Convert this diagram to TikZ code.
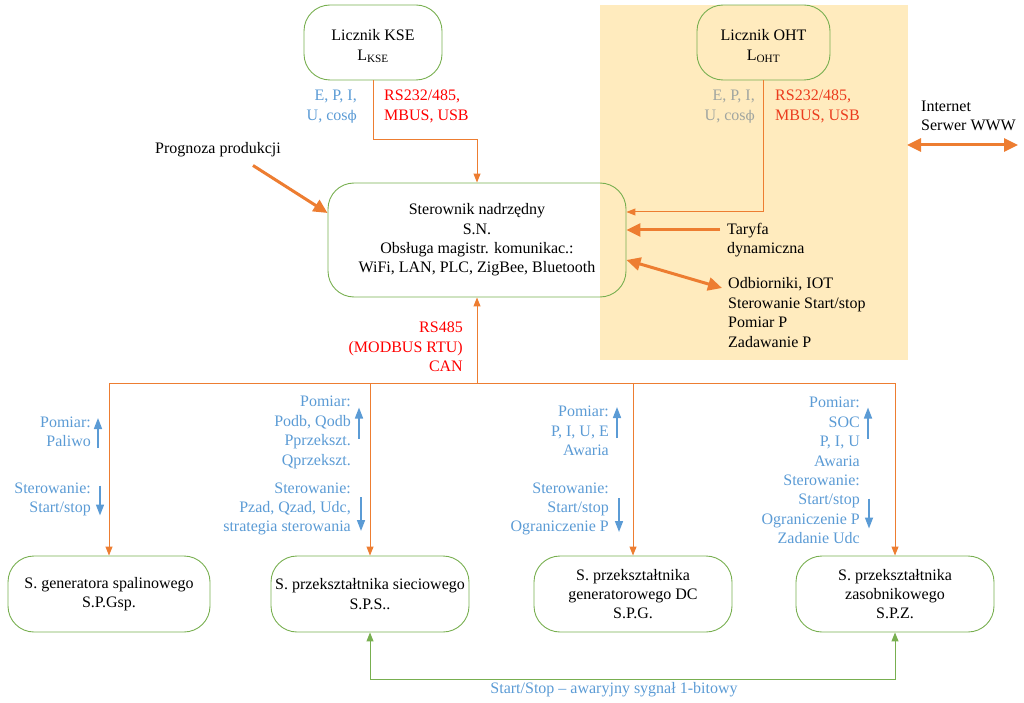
\documentclass[tikz,border=0pt]{standalone}
\usepackage{fontspec}
\setmainfont{Liberation Serif}
\newfontfamily\phifont{DejaVu Serif}
\usetikzlibrary{arrows.meta,calc}
\definecolor{cOr}{RGB}{237,125,49}
\definecolor{cGr}{RGB}{120,175,80}
\definecolor{cBl}{RGB}{91,155,213}
\definecolor{cRd}{RGB}{255,0,0}
\definecolor{cRo}{RGB}{235,60,30}
\definecolor{cBg}{RGB}{255,235,190}
\definecolor{cGy}{RGB}{160,165,160}
\newcommand{\myphi}{{\phifont\fontsize{13.5}{13.5}\selectfont ϕ}}
\begin{document}
\begin{tikzpicture}[x=1pt,y=-1pt,
  every node/.style={font=\fontsize{16}{19.4}\selectfont, inner sep=0pt},
  rbox/.style={draw=cGr, line width=0.9pt, rounded corners=26pt, align=center},
  busline/.style={draw=cOr, line width=1pt, -{Triangle[length=9pt,width=7pt]}},
  fatarrow/.style={draw=cOr, line width=3pt, -{Triangle[length=14pt,width=13pt]}},
  fatboth/.style={draw=cOr, line width=3pt, {Triangle[length=14pt,width=13pt]}-{Triangle[length=14pt,width=13pt]}},
  bluearr/.style={draw=cBl, line width=1.6pt, -{Triangle[length=11pt,width=8pt]}},
  bl/.style={text=cBl, align=right, anchor=east},
  rl/.style={text=cRd, align=right, anchor=east},
  ll/.style={align=left, anchor=west},
]
\useasboundingbox (0,0) rectangle (1024,703);
\fill[cBg] (600,5) rectangle (908,360);

% top meters
\node[rbox, minimum width=138pt, minimum height=75pt] (kse) at (373,42.5) {\rule{0pt}{19pt}Licznik KSE\\L\textsubscript{KSE}};
\node[rbox, minimum width=133pt, minimum height=75pt] (oht) at (763.5,42.5) {\rule{0pt}{19pt}Licznik OHT\\L\textsubscript{OHT}};

% main controller
\node[rbox, minimum width=298pt, minimum height=114pt] (sn) at (477,240)
  {Sterownik nadrzędny\\S.N.\\Obsługa magistr. komunikac.:\\WiFi, LAN, PLC, ZigBee, Bluetooth};

% meter labels
\node[bl] (kseL) at (357,106.5) {E, P, I,\\U, cos\myphi};
\node[ll, text=cRd] (kseR) at (384,106.5) {RS232/485,\\MBUS, USB};
\node[bl, text=cGy] (ohtL) at (755,106.5) {E, P, I,\\U, cos\myphi};
\node[ll, text=cRo] (ohtR) at (775,106.5) {RS232/485,\\MBUS, USB};

% meter connectors
\coordinate (k1) at (477,140);
\draw[busline] (kse.south) |- (k1) -- (sn.north);
\draw[busline] (oht.south) |- ($(sn.east)+(0,-28)$);

% side inputs
\node (prog) at (218,150) {Prognoza produkcji};
\draw[fatarrow] ($(prog.south)+(35,8)$) -- ($(sn.west)+(0,-27)$);

\node[ll] (tar) at (727,240) {Taryfa\\dynamiczna};
\draw[fatarrow] ($(tar.west)+(-7,-10)$) -- ($(sn.east)+(0,-10)$);

\node[ll] (odb) at (728,312.5) {Odbiorniki, IOT\\Sterowanie Start/stop\\Pomiar P\\Zadawanie P};
\draw[fatboth] ($(sn.east)+(0,20)$) -- ($(odb.west)+(-6,-24.5)$);

\node[ll] (inet) at (921,116) {Internet\\Serwer WWW};
\draw[fatboth] ($(inet.west)+(-14,29)$) -- ($(inet.west)+(97,29)$);

% bottom boxes
\node[rbox, minimum width=202pt, minimum height=76pt] (b1) at (109,594) {S. generatora spalinowego\\S.P.Gsp.};
\node[rbox, minimum width=198pt, minimum height=76pt] (b2) at (370,594) {S. przekształtnika sieciowego\\S.P.S..};
\node[rbox, minimum width=198pt, minimum height=76pt] (b3) at (633,594) {S. przekształtnika\\generatorowego DC\\S.P.G.};
\node[rbox, minimum width=198pt, minimum height=76pt] (b4) at (895,594) {S. przekształtnika\\zasobnikowego\\S.P.Z.};

% bus
\coordinate (bus) at (477,383);
\node[rl] (rs) at (463,347) {RS485\\(MODBUS RTU)\\CAN};
\draw[busline] (bus) -- (sn.south);
\draw[draw=cOr, line width=1pt] (b1.north |- bus) -- (b4.north |- bus);
\draw[busline] (b1.north |- bus) -- (b1.north);
\draw[busline] (b2.north |- bus) -- (b2.north);
\draw[busline] (b3.north |- bus) -- (b3.north);
\draw[busline] (b4.north |- bus) -- (b4.north);

% emergency line
\draw[draw=cGr, line width=1pt, {Triangle[length=9pt,width=7pt]}-{Triangle[length=9pt,width=7pt]}] (b2.south) -- ++(0,47) -| (b4.south);
\node[text=cBl] (ss) at (614,690) {Start/Stop – awaryjny sygnał 1-bitowy};

% blue annotations
\node[bl] (c1m) at (91,432) {Pomiar:\\Paliwo};
\draw[bluearr] ($(c1m.east)+(7,16)$) -- ($(c1m.east)+(7,-14)$);
\node[bl] (c1s) at (91,499.5) {Sterowanie:\\Start/stop};
\draw[bluearr] ($(c1s.east)+(9,-14)$) -- ($(c1s.east)+(9,16)$);

\node[bl] (c2m) at (351,432.5) {Pomiar:\\Podb, Qodb\\Pprzekszt.\\Qprzekszt.};
\draw[bluearr] ($(c2m.east)+(8,6)$) -- ($(c2m.east)+(8,-25)$);
\node[bl] (c2s) at (351,509) {Sterowanie:\\Pzad, Qzad, Udc,\\strategia sterowania};
\draw[bluearr] ($(c2s.east)+(10,-12)$) -- ($(c2s.east)+(10,22)$);

\node[bl] (c3m) at (609,431) {Pomiar:\\P, I, U, E\\Awaria};
\draw[bluearr] ($(c3m.east)+(8,7)$) -- ($(c3m.east)+(8,-24)$);
\node[bl] (c3s) at (609,509) {Sterowanie:\\Start/stop\\Ograniczenie P};
\draw[bluearr] ($(c3s.east)+(10,-11)$) -- ($(c3s.east)+(10,23)$);

\node[bl] (c4) at (860,470.5) {Pomiar:\\SOC\\P, I, U\\Awaria\\Sterowanie:\\Start/stop\\Ograniczenie P\\Zadanie Udc};
\draw[bluearr] ($(c4.east)+(8,-32)$) -- ($(c4.east)+(8,-63)$);
\draw[bluearr] ($(c4.east)+(9,28)$) -- ($(c4.east)+(9,58)$);
\end{tikzpicture}
\end{document}
